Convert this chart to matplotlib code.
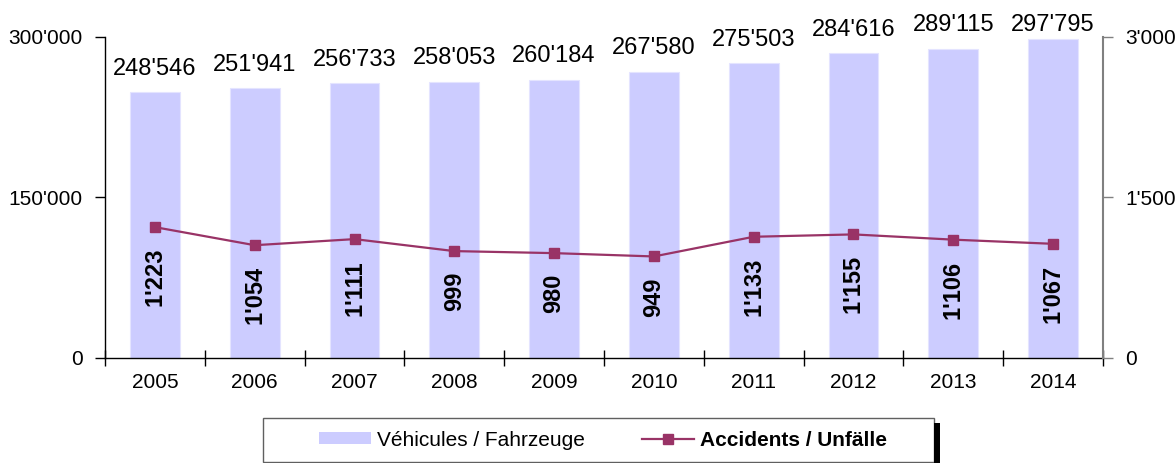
import matplotlib
matplotlib.use("Agg")
import matplotlib.pyplot as plt
import matplotlib.ticker as ticker
from matplotlib.patches import Rectangle, Patch
from matplotlib.lines import Line2D

plt.rcParams['font.family'] = ['Liberation Sans', 'DejaVu Sans']

# données
years = ['2005', '2006', '2007', '2008', '2009', '2010', '2011', '2012', '2013', '2014']
vehicules = [248546, 251941, 256733, 258053, 260184, 267580, 275503, 284616, 289115, 297795]
accidents = [1223, 1054, 1111, 999, 980, 949, 1133, 1155, 1106, 1067]

BAR_COLOR = '#ccccff'
LINE_COLOR = '#993366'


def swiss(v):
    return f"{int(v):,}".replace(",", "'")


fig = plt.figure(figsize=(11.76, 4.63), dpi=100)
ax1 = fig.add_axes([0.0893, 0.2268, 0.8486, 0.6933])
ax2 = ax1.twinx()

x = list(range(len(years)))

# barres véhicules
ax1.bar(x, vehicules, width=0.5, color=BAR_COLOR, edgecolor='#e4e4ff', linewidth=0.8, zorder=2)
label_cap = 289500
for i, v in enumerate(vehicules):
    ax1.annotate(swiss(v), xy=(i, min(v, label_cap)), xytext=(0, 9), textcoords='offset points',
                 ha='center', va='bottom', fontsize=17)

ax1.set_xlim(-0.5, len(years) - 0.5)
ax1.set_ylim(0, 300000)
ax1.set_yticks([0, 150000, 300000])
ax1.yaxis.set_major_formatter(ticker.FuncFormatter(lambda v, p: swiss(v)))
ax1.set_xticks(x)
ax1.set_xticklabels(years)
ax1.set_xticks([i - 0.5 for i in range(len(years) + 1)], minor=True)
ax1.tick_params(axis='x', which='major', length=0, pad=11, labelsize=15)
ax1.tick_params(axis='x', which='minor', direction='inout', length=12, width=1, color='black')
ax1.tick_params(axis='y', direction='out', length=7, width=1, pad=9, labelsize=15)
for s in ['top', 'right']:
    ax1.spines[s].set_visible(False)
ax1.spines['left'].set_linewidth(1)
ax1.spines['bottom'].set_linewidth(1)

# ligne accidents
ax2.plot(x, accidents, color=LINE_COLOR, linewidth=1.6, marker='s', markersize=7, zorder=3)
for i, v in enumerate(accidents):
    ax2.annotate(swiss(v), xy=(i, v), xytext=(0, -15), textcoords='offset points',
                 ha='center', va='top', rotation=90, fontsize=17, fontweight='bold')
ax2.set_ylim(0, 3000)
ax2.set_yticks([0, 1500, 3000])
ax2.yaxis.set_major_formatter(ticker.FuncFormatter(lambda v, p: swiss(v)))
ax2.tick_params(axis='y', direction='out', length=7, width=1, pad=9, labelsize=15,
                color='#808080', labelcolor='black')
for s in ['top', 'left', 'bottom']:
    ax2.spines[s].set_visible(False)
ax2.spines['right'].set_color('#808080')
ax2.spines['right'].set_linewidth(1.5)

# légende
fig.patches.append(Rectangle((263 / 1176, 1 / 463), 671 / 1176, 44 / 463, transform=fig.transFigure,
                             facecolor='white', edgecolor='#606060', linewidth=1))
fig.patches.append(Rectangle((934 / 1176, 0), 6 / 1176, 40 / 463, transform=fig.transFigure,
                             facecolor='black', edgecolor='none'))
handles = [Patch(facecolor=BAR_COLOR, edgecolor='none'),
           Line2D([0], [0], color=LINE_COLOR, linewidth=1.6, marker='s', markersize=7)]
leg = fig.legend(handles, ['Véhicules / Fahrzeuge', 'Accidents / Unfälle'],
                 loc='center', bbox_to_anchor=(603 / 1176, 23 / 463), ncol=2, frameon=False,
                 fontsize=15, handlelength=2.5, handleheight=0.55, handletextpad=0.3,
                 columnspacing=2.7)
leg.get_texts()[1].set_fontweight('bold')

fig.savefig('out.png', dpi=100)
